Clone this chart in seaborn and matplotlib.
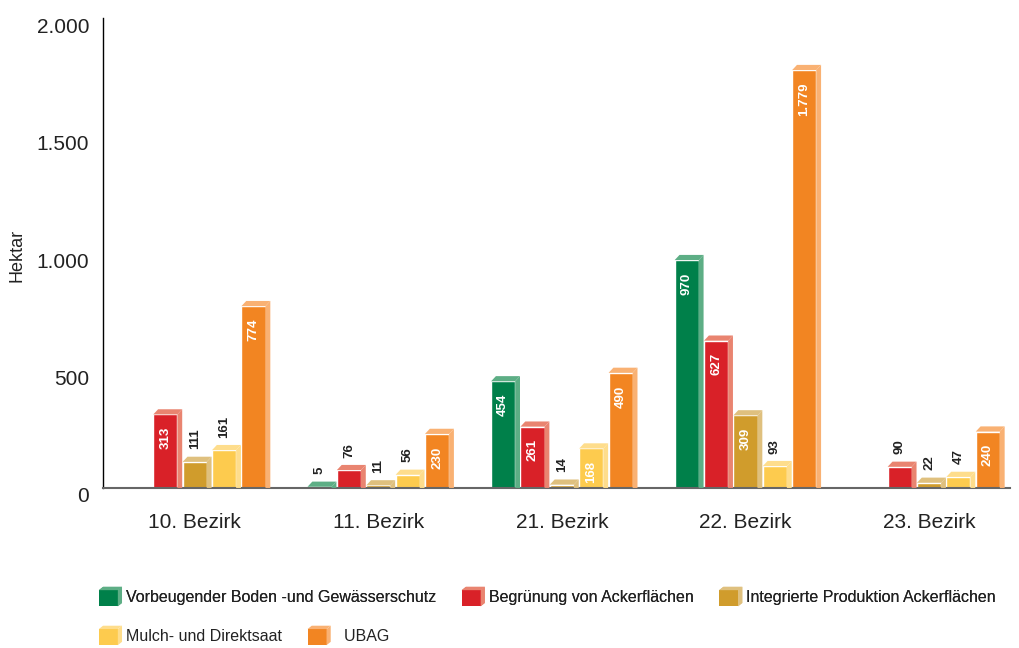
import matplotlib
matplotlib.use("Agg")
import numpy as np
import pandas as pd
import matplotlib.pyplot as plt
import seaborn as sns
from matplotlib.patches import Polygon, Patch
from matplotlib.legend_handler import HandlerBase
from matplotlib.transforms import ScaledTranslation

# --- data -----------------------------------------------------------------
bezirke = ["10. Bezirk", "11. Bezirk", "21. Bezirk", "22. Bezirk", "23. Bezirk"]
massnahmen = [
    "Vorbeugender Boden -und Gewässerschutz",
    "Begrünung von Ackerflächen",
    "Integrierte Produktion Ackerflächen",
    "Mulch- und Direktsaat",
    "UBAG",
]
vorbeugend = [np.nan, 5, 454, 970, np.nan]
begruenung = [313, 76, 261, 627, 90]
integriert = [111, 11, 14, 309, 22]
mulch = [161, 56, 168, 93, 47]
ubag = [774, 230, 490, 1779, 240]

colors = ["#00804A", "#D92128", "#D09C2C", "#FDCB4E", "#F28522"]
light = ["#5DAE85", "#E98470", "#DFC07E", "#FEDD8C", "#F9B173"]

series = [vorbeugend, begruenung, integriert, mulch, ubag]
rows = []
for name, vals in zip(massnahmen, series):
    for bez, v in zip(bezirke, vals):
        rows.append({"Bezirk": bez, "Maßnahme": name, "Hektar": v})
df = pd.DataFrame(rows)

# --- style ----------------------------------------------------------------
sns.set_style("white")
plt.rcParams["font.family"] = ["Liberation Sans", "DejaVu Sans"]

fig = plt.figure(figsize=(10.19, 6.48), dpi=100)
ax = fig.add_axes([0.101, 0.247, 0.89, 0.725])

sns.barplot(
    data=df, x="Bezirk", y="Hektar", hue="Maßnahme",
    hue_order=massnahmen, order=bezirke,
    palette=colors, saturation=1, width=0.8, gap=0.18,
    errorbar=None, legend=False, ax=ax,
)

ax.set_ylim(0, 2000)
ax.set_xlim(-0.5, 4.44)
dy = 22  # depth of the 3D effect in data units (y)

# 3D faces + value labels
for i, cont in enumerate(ax.containers):
    for bar in cont:
        h = bar.get_height()
        if np.isnan(h):
            continue
        x0, w = bar.get_x(), bar.get_width()
        dx = w * 0.2
        top = Polygon([(x0, h), (x0 + w, h), (x0 + w + dx, h + dy), (x0 + dx, h + dy)],
                      closed=True, facecolor=light[i], edgecolor="none", zorder=3)
        side = Polygon([(x0 + w, 0), (x0 + w, h), (x0 + w + dx, h + dy), (x0 + w + dx, 0)],
                       closed=True, facecolor=light[i], edgecolor="none", zorder=3)
        ax.add_patch(top)
        ax.add_patch(side)
        txt = f"{h:,.0f}".replace(",", ".")
        xc = x0 + w / 2
        if h > 165:
            ax.annotate(txt, (xc, h), xytext=(0, -9), textcoords="offset points",
                        ha="center", va="top", rotation=90, color="white",
                        fontsize=9.5, fontweight="bold", zorder=4)
        else:
            ax.annotate(txt, (xc, h), xytext=(0, 9), textcoords="offset points",
                        ha="center", va="bottom", rotation=90, color="#222222",
                        fontsize=9.5, fontweight="bold", zorder=4)

# axes styling
ax.set_yticks([0, 500, 1000, 1500, 2000])
ax.set_yticklabels(["0", "500", "1.000", "1.500", "2.000"])
ax.tick_params(axis="y", direction="in", length=16, width=1, color="black",
               labelsize=15, pad=10, labelcolor="#222222")
ax.tick_params(axis="x", length=0, labelsize=15, pad=18, labelcolor="#222222")
shift = ScaledTranslation(0, -7 / 100, fig.dpi_scale_trans)
for lab in ax.get_yticklabels():
    lab.set_transform(lab.get_transform() + shift)
ax.set_xlabel("")
ax.set_ylabel("Hektar", fontsize=13, color="#222222")
ax.yaxis.set_label_coords(-0.085, 0.494)
for s in ["top", "right"]:
    ax.spines[s].set_visible(False)
ax.spines["left"].set_color("black")
ax.spines["left"].set_linewidth(1)
ax.spines["bottom"].set_color("#666666")
ax.spines["bottom"].set_linewidth(1.5)


# legend with small 3D boxes
class Box3D(HandlerBase):
    def create_artists(self, legend, orig_handle, xdescent, ydescent,
                       width, height, fontsize, trans):
        fc = orig_handle.get_facecolor()
        lc = orig_handle.get_edgecolor()
        x0, y0 = -xdescent, -ydescent
        w, hh = width * 0.82, height * 0.85
        d = width * 0.18
        front = Polygon([(x0, y0), (x0 + w, y0), (x0 + w, y0 + hh), (x0, y0 + hh)],
                        facecolor=fc, edgecolor="none", transform=trans)
        top = Polygon([(x0, y0 + hh), (x0 + w, y0 + hh), (x0 + w + d, y0 + hh + d * 0.8),
                       (x0 + d, y0 + hh + d * 0.8)], facecolor=lc, edgecolor="none",
                      transform=trans)
        side = Polygon([(x0 + w, y0), (x0 + w, y0 + hh), (x0 + w + d, y0 + hh + d * 0.8),
                        (x0 + w + d, y0 + d * 0.8)], facecolor=lc, edgecolor="none",
                       transform=trans)
        return [front, top, side]


handles = [Patch(facecolor=c, edgecolor=l) for c, l in zip(colors, light)]
labels = list(massnahmen)
labels[4] = "  UBAG"
common = dict(frameon=False, fontsize=11.5, handlelength=1.45, handleheight=1.45,
              handletextpad=0.25, columnspacing=1.6, borderpad=0, borderaxespad=0,
              handler_map={Patch: Box3D()}, labelcolor="#222222")
leg1 = fig.legend(handles[:3], labels[:3], loc="center left",
                  bbox_to_anchor=(0.097, 0.079), ncol=3, **common)
fig.add_artist(leg1)
fig.legend(handles[3:], labels[3:], loc="center left",
           bbox_to_anchor=(0.097, 0.019), ncol=2, **common)

fig.savefig("out.png", dpi=100)
